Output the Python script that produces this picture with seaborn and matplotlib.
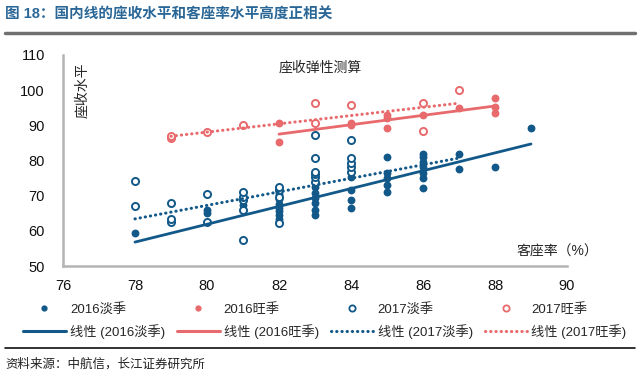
import matplotlib
matplotlib.use('Agg')
import matplotlib.pyplot as plt
from matplotlib.lines import Line2D
import seaborn as sns

# 2016 off-peak (filled blue)
off16_x = [78, 80, 80, 81, 82, 82, 82, 82, 82, 82, 82, 82,
           83, 83, 83, 83, 83, 83, 84, 84, 84, 84,
           85, 85, 85, 85, 85, 86, 86, 86, 86, 86, 86, 86,
           87, 87, 88, 89]
off16_y = [59.5, 65.0, 66.0, 67.3, 62.5, 63.5, 64.5, 65.5, 66.5, 67.5, 69.0, 70.5,
           64.5, 66.0, 67.9, 69.3, 70.7, 72.4, 66.5, 68.8, 71.6, 75.3,
           71.0, 73.0, 75.0, 76.4, 81.0, 72.2, 75.0, 76.4, 78.1, 79.5, 81.0, 81.8,
           77.6, 81.8, 78.1, 89.2]

# 2016 peak (filled red)
peak16_x = [82, 82, 84, 84, 85, 85, 85, 86, 87, 88, 88, 88]
peak16_y = [85.2, 90.6, 90.0, 90.6, 89.2, 92.0, 92.9, 92.9, 94.9, 93.5, 95.2, 97.7]

# 2017 off-peak (hollow blue)
off17_x = [78, 78, 79, 79, 79, 80, 80, 81, 81, 81, 81, 81,
           82, 82, 82, 82, 83, 83, 83, 83, 83, 83,
           84, 84, 84, 84, 84]
off17_y = [67.0, 74.1, 62.5, 63.4, 67.9, 62.5, 70.5, 57.5, 66.0, 68.8, 69.6, 71.0,
           62.2, 69.6, 71.6, 72.4, 73.9, 75.3, 76.1, 76.7, 80.7, 87.2,
           76.7, 78.1, 79.3, 80.7, 85.8]

# 2017 peak (hollow red)
peak17_x = [79, 79, 80, 81, 83, 83, 84, 86, 86, 87]
peak17_y = [86.5, 87.0, 88.1, 90.0, 90.6, 96.3, 95.9, 88.4, 96.3, 100.0]

# linear trend lines as drawn in the source chart
fit_off16_x, fit_off16_y = [78, 89], [56.8, 84.7]
fit_peak16_x, fit_peak16_y = [82, 88], [87.5, 95.5]
fit_off17_x, fit_off17_y = [78, 87], [63.4, 80.7]
fit_peak17_x, fit_peak17_y = [79, 87], [86.9, 96.3]

series_names = ['2016淡季', '2016旺季', '2017淡季', '2017旺季']

BLUE = '#12598A'
RED = '#E86A6C'
GREY = '#b4b4b4'
DOT = (0, (0.1, 1.6))

sns.set_style('white')
plt.rcParams['font.family'] = ['Liberation Sans', 'Noto Sans CJK SC']

fig = plt.figure(figsize=(6.4, 3.74), dpi=100)
ax = fig.add_axes([63 / 640, 1 - 266 / 374, (567 - 63) / 640, (266 - 55) / 374])

sns.scatterplot(x=off16_x, y=off16_y, color=BLUE, s=32, linewidth=0,
                legend=False, ax=ax, zorder=3)
sns.scatterplot(x=peak16_x, y=peak16_y, color=RED, s=32, linewidth=0,
                legend=False, ax=ax, zorder=3)
sns.scatterplot(x=off17_x, y=off17_y, facecolor='white', edgecolor=BLUE, s=26,
                linewidth=1.4, legend=False, ax=ax, zorder=4)
sns.scatterplot(x=peak17_x, y=peak17_y, facecolor='white', edgecolor=RED, s=26,
                linewidth=1.4, legend=False, ax=ax, zorder=4)

sns.lineplot(x=fit_off16_x, y=fit_off16_y, color=BLUE, lw=2.0, legend=False, ax=ax, zorder=5)
sns.lineplot(x=fit_peak16_x, y=fit_peak16_y, color=RED, lw=2.0, legend=False, ax=ax, zorder=5)
sns.lineplot(x=fit_off17_x, y=fit_off17_y, color=BLUE, lw=2.2, linestyle=DOT,
             dash_capstyle='round', legend=False, ax=ax, zorder=5)
sns.lineplot(x=fit_peak17_x, y=fit_peak17_y, color=RED, lw=2.2, linestyle=DOT,
             dash_capstyle='round', legend=False, ax=ax, zorder=5)

ax.set_xlim(76, 90)
ax.set_ylim(50, 110)
ax.set_xticks(range(76, 91, 2))
ax.set_yticks(range(50, 111, 10))
ax.set_xlabel('')
ax.set_ylabel('')
sns.despine(ax=ax)
for side in ['left', 'bottom']:
    ax.spines[side].set_color(GREY)
    ax.spines[side].set_linewidth(1.8)
ax.tick_params(axis='both', direction='out', length=4, width=1.5, color=GREY,
               labelsize=10.5, labelcolor='#111111')
ax.tick_params(axis='y', pad=9)
ax.tick_params(axis='x', pad=5)

ax.text(83.14, 106.5, '座收弹性测算', ha='center', va='center', fontsize=10)
ax.text(76.55, 100, '座收水平', rotation=90, ha='center', va='center', fontsize=10)
ax.text(89.72, 54, '客座率（%）', ha='center', va='center', fontsize=10, clip_on=False)

# legend proxies: markers on the top row, trend lines below (column-wise fill)
colors = [BLUE, RED, BLUE, RED]
handles, labels = [], []
for i, name in enumerate(series_names):
    hollow = i >= 2
    handles.append(Line2D([], [], linestyle='none', marker='o', markersize=4.5,
                          markerfacecolor='white' if hollow else colors[i],
                          markeredgecolor=colors[i], markeredgewidth=1.3 if hollow else 0))
    labels.append(name)
    handles.append(Line2D([], [], color=colors[i], lw=2.2,
                          linestyle=DOT if hollow else '-',
                          dash_capstyle='round'))
    labels.append(f'线性 ({name})')

fig.legend(handles, labels, ncol=4, loc='upper left',
           bbox_to_anchor=(23 / 640, 1 - 303 / 374),
           frameon=False, fontsize=9.5, handlelength=3.25, handletextpad=0.3,
           columnspacing=0.9, labelspacing=0.6, borderpad=0, borderaxespad=0)

fig.text(5 / 640, 1 - 15 / 374, '图 18：国内线的座收水平和客座率水平高度正相关',
         color='#2A6797', fontsize=10.5, weight='bold', va='center', ha='left')
fig.add_artist(Line2D([5 / 640, 635 / 640], [1 - 33 / 374] * 2, color='#707070', lw=2.5))
fig.add_artist(Line2D([5 / 640, 635 / 640], [1 - 348 / 374] * 2, color='#111111', lw=1.2))
fig.text(5 / 640, 1 - 364 / 374, '资料来源：中航信，长江证券研究所',
         color='#222222', fontsize=9, va='center', ha='left')

fig.savefig('out.png', dpi=100)
